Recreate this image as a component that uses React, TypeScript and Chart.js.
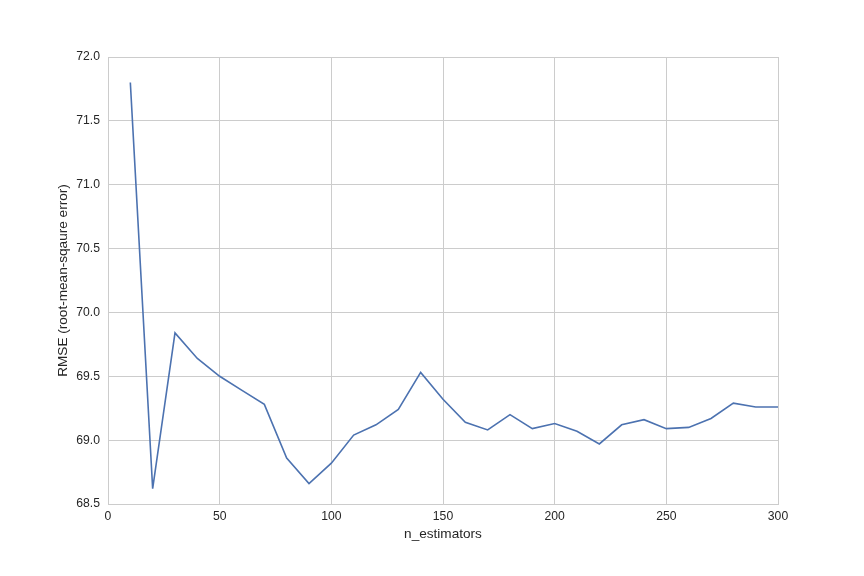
import React, { useEffect, useRef } from "react";
import { Chart, registerables } from "chart.js";

Chart.register(...registerables);

const nEstimators = [10, 20, 30, 40, 50, 60, 70, 80, 90, 100, 110, 120, 130, 140, 150, 160, 170, 180, 190, 200, 210, 220, 230, 240, 250, 260, 270, 280, 290, 300];
const rmse = [71.80, 68.62, 69.84, 69.64, 69.50, 69.39, 69.28, 68.86, 68.66, 68.82, 69.04, 69.12, 69.24, 69.53, 69.32, 69.14, 69.08, 69.20, 69.09, 69.13, 69.07, 68.97, 69.12, 69.16, 69.09, 69.10, 69.17, 69.29, 69.26, 69.26];
const xLabel = "n_estimators";
const yLabel = "RMSE (root-mean-sqaure error)";

export default function App() {
  const ref = useRef<HTMLCanvasElement | null>(null);
  useEffect(() => {
    document.body.style.margin = "0";
    const canvas = ref.current;
    if (!canvas) return;
    const family = "'Liberation Sans', Arial, sans-serif";
    const font = { family, size: 12.2 };
    const titleFont = { family, size: 13.6 };
    const chart = new Chart(canvas, {
      type: "line",
      data: {
        datasets: [
          {
            data: nEstimators.map((x, i) => ({ x, y: rmse[i] })),
            borderColor: "#4C72B0",
            borderWidth: 1.6,
            pointRadius: 0,
            tension: 0,
            fill: false,
          },
        ],
      },
      options: {
        responsive: false,
        animation: false,
        devicePixelRatio: 1,
        layout: { padding: { left: 0, right: 86, top: 57, bottom: 0 } },
        plugins: { legend: { display: false }, tooltip: { enabled: false } },
        scales: {
          x: {
            type: "linear",
            min: 0,
            max: 300,
            ticks: { stepSize: 50, padding: 5, color: "#262626", font, maxRotation: 0 },
            grid: { color: "#cccccc", lineWidth: 1, drawTicks: false },
            border: { display: true, color: "#cccccc" },
            title: {
              display: true,
              text: xLabel,
              color: "#262626",
              font: titleFont,
              padding: { top: 0, bottom: 34 },
            },
            afterFit: (s: any) => {
              s.height = 72;
            },
          },
          y: {
            type: "linear",
            min: 68.5,
            max: 72.0,
            ticks: {
              stepSize: 0.5,
              padding: 8,
              color: "#262626",
              font,
              callback: (v: any) => Number(v).toFixed(1),
            },
            grid: { color: "#cccccc", lineWidth: 1, drawTicks: false },
            border: { display: true, color: "#cccccc" },
            title: {
              display: true,
              text: yLabel,
              color: "#262626",
              font: titleFont,
              padding: { top: 55, bottom: 0 },
            },
            afterFit: (s: any) => {
              s.width = 108;
            },
          },
        },
      },
    });
    return () => chart.destroy();
  }, []);
  return <canvas ref={ref} width={864} height={576} style={{ display: "block" }} />;
}
